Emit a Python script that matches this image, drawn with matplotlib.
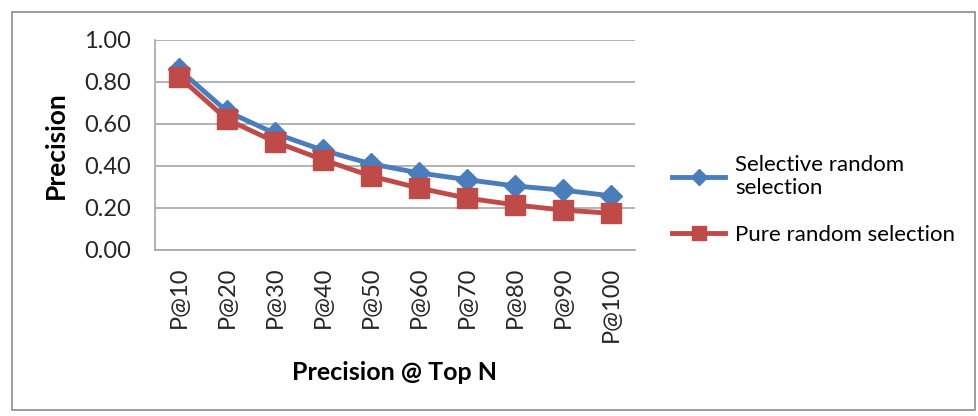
import matplotlib
matplotlib.use("Agg")
import matplotlib.pyplot as plt
from matplotlib.patches import Rectangle

plt.rcParams['font.family'] = ['Lato', 'DejaVu Sans']

categories = ["P@10", "P@20", "P@30", "P@40", "P@50", "P@60", "P@70", "P@80", "P@90", "P@100"]
selective = [0.86, 0.66, 0.555, 0.475, 0.41, 0.367, 0.335, 0.305, 0.285, 0.258]
pure = [0.825, 0.622, 0.515, 0.43, 0.352, 0.295, 0.247, 0.215, 0.19, 0.175]
y_ticks = [0.0, 0.2, 0.4, 0.6, 0.8, 1.0]

fig = plt.figure(figsize=(9.79, 4.16), dpi=100)
fig.patches.append(Rectangle((12 / 979, 6 / 416), 963 / 979, 398 / 416, transform=fig.transFigure,
                             fill=False, edgecolor='#8c8c8c', linewidth=1.2))

ax = fig.add_axes([155 / 979, 1 - 250 / 416, 480 / 979, 210 / 416])
x = list(range(len(categories)))
ax.plot(x, selective, color='#4a7ebb', lw=3.5, marker='D', ms=11, label='Selective random\nselection', zorder=3)
ax.plot(x, pure, color='#be4b48', lw=3.5, marker='s', ms=14, label='Pure random selection', zorder=4)

ax.set_xlim(-0.5, len(categories) - 0.5)
ax.set_ylim(0, 1.0)
ax.set_yticks(y_ticks)
ax.set_yticklabels([f"{v:.2f}" for v in y_ticks], fontsize=17, color='#262626')
ax.set_xticks(x)
ax.set_xticklabels(categories, rotation=90, fontsize=17, color='#262626')
ax.tick_params(axis='y', length=0, pad=17)
ax.tick_params(axis='x', length=0, pad=12)
ax.grid(axis='y', color='#a6a6a6', lw=1.2)
ax.set_axisbelow(True)
for s in ['top', 'right']:
    ax.spines[s].set_visible(False)
for s in ['left', 'bottom']:
    ax.spines[s].set_color('#a6a6a6')
    ax.spines[s].set_linewidth(1.2)

ax.set_ylabel('Precision', fontsize=19, fontweight='bold', labelpad=12)
ax.set_xlabel('Precision @ Top N', fontsize=18, fontweight='bold', labelpad=14)

fig.legend(loc='center left', bbox_to_anchor=(672 / 979, 1 - 200 / 416), frameon=False,
           fontsize=16, handlelength=2.4, labelspacing=1.2, handletextpad=0.45,
           borderpad=0, borderaxespad=0, markerscale=0.7)

fig.savefig('out.png', dpi=100)
